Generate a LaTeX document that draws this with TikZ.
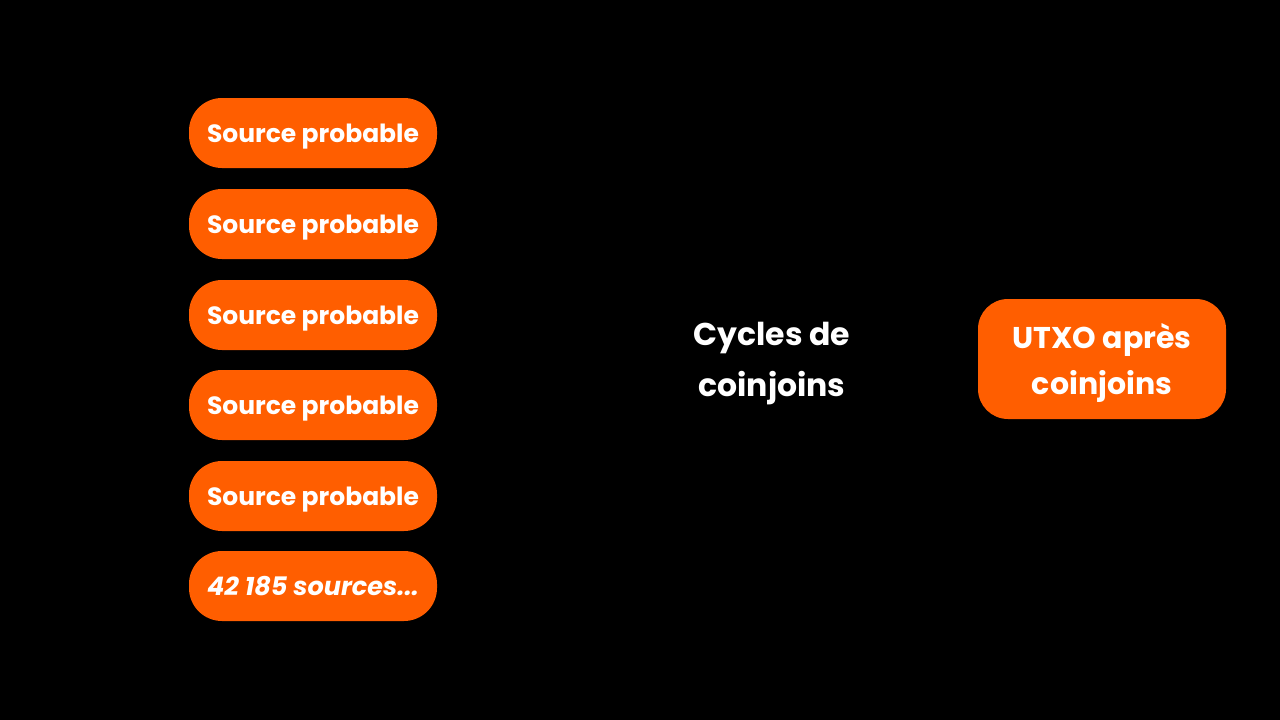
\documentclass[tikz,border=0pt]{standalone}
\usepackage{fontspec}
\setmainfont{Poppins}
\usepackage{xcolor}
\usetikzlibrary{positioning}
\definecolor{orangeBox}{HTML}{FF5E00}

\begin{document}
\begin{tikzpicture}[x=1pt,y=-1pt, line join=round,
		pill/.style={fill=orangeBox, text=white, rounded corners=33pt, minimum width=248pt, minimum height=70pt, inner sep=0pt, text height=18pt, text depth=0pt, font=\fontsize{25}{30}\selectfont\bfseries},
		bigtxt/.style={text=white, align=center, inner sep=0pt, font=\fontsize{31.5}{51}\selectfont\bfseries}]
	% ===== fond =====
	\fill[black] (0,0) rectangle (1280,720);
	\useasboundingbox (0,0) rectangle (1280,720);
	
	% ===== sources probables (colonne gauche) =====
	\foreach \i/\y in {1/133,2/224,3/315,4/405,5/496}{
		\node[pill] (src\i) at (313,\y) {Source probable};
	}
	\node[pill, font=\fontsize{25.5}{30}\selectfont\bfseries\itshape] (srcN) at (313,586) {42 185 sources...};
	
	% ===== cycles (milieu) =====
	\node[bigtxt, yshift=-5pt] (cycles) at (772,359) {Cycles de\\coinjoins};
	
	% ===== UTXO final =====
	\node[pill, minimum height=120pt, rounded corners=30pt, align=center, text height=, text depth=0pt, font=\fontsize{30}{46}\selectfont\bfseries] (utxo) at (1102,359) {UTXO après\\coinjoins};
\end{tikzpicture}
\end{document}
